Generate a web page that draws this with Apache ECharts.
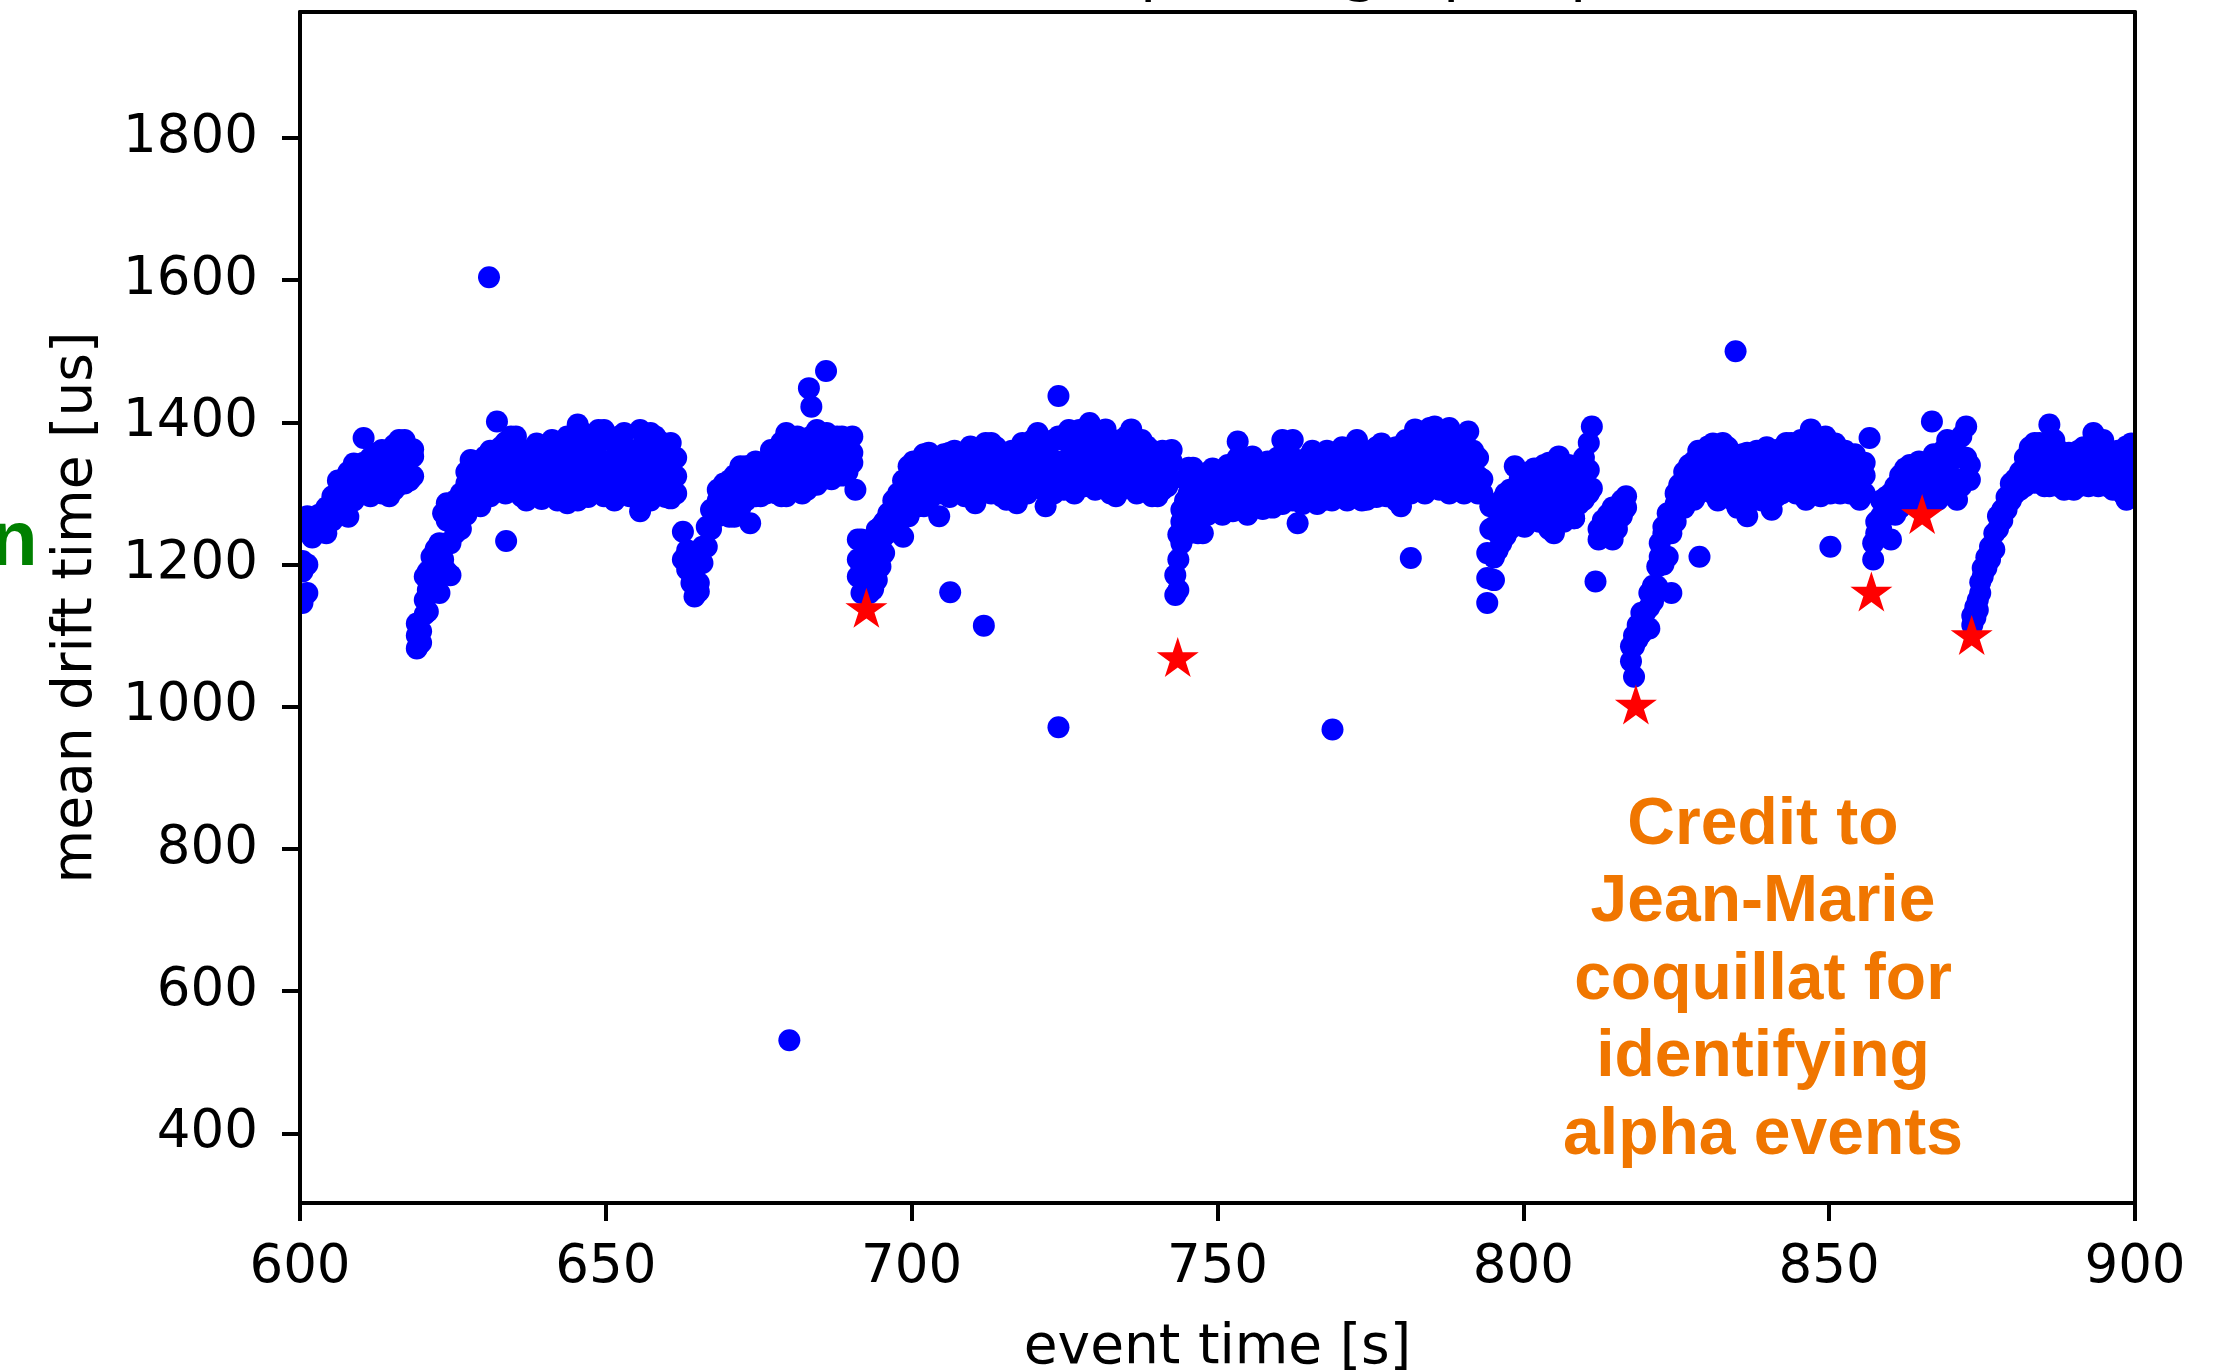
<!DOCTYPE html>
<html>
<head>
<meta charset="utf-8">
<title>mean drift time vs event time</title>
<script src="https://cdn.jsdelivr.net/npm/echarts@6/dist/echarts.min.js"></script>
<style>
  html, body { margin: 0; padding: 0; background: #fff; }
  #chart { width: 2218px; height: 1372px; }
</style>
</head>
<body>
<div id="chart"></div>
<script>
// each row: [event time (s), drift time (us), drift time, ...]
const cycle1 = [
  [600.4,1146,1190,1205],[601.2,1160,1200,1250,1268],[602.0,1238,1262],[603.1,1248,1270],
  [604.3,1244,1262,1280],[605.3,1262,1296],[606.2,1270,1300,1318],[607.1,1277,1298,1320],
  [607.9,1267,1310,1330],[608.8,1290,1320,1342],[609.6,1298,1319,1340],[610.4,1305,1330,1343,1378],
  [611.5,1296,1325,1350],[612.3,1310,1338,1356],[613.4,1300,1330,1361],[614.6,1296,1318,1346],
  [615.4,1305,1340,1368],[616.2,1312,1350,1375],[617.1,1314,1340,1375],[617.9,1318,1352],
  [618.5,1324,1352,1362]
]
const cycle2 = [
  [619.1,1082,1100,1117],[619.8,1090,1106],[620.4,1130,1150,1183],[620.9,1134,1164,1190],
  [621.5,1160,1185,1211],[622.2,1170,1200,1222],[622.8,1160,1195,1230],[623.4,1185,1207,1272],
  [624.0,1190,1230,1262,1286],[624.6,1185,1230,1267],[625.4,1244,1270,1290],[626.3,1250,1280,1300],
  [627.2,1270,1314,1330],[627.9,1282,1310,1347],
  [628.7,1290,1315,1345],[629.5,1282,1314,1340],[630.3,1300,1330,1352],[631.1,1296,1338,1360],
  [632.0,1305,1330,1350],[632.8,1312,1342,1365],[633.6,1300,1352,1372],[634.5,1310,1335,1380],
  [635.3,1314,1345,1380],[636.2,1296,1325,1358],[637.0,1290,1320,1350],[637.9,1300,1335,1362],
  [638.7,1314,1345,1370],[639.5,1292,1322,1355],[640.4,1300,1340,1361],[641.2,1310,1335,1375],
  [642.1,1290,1324,1360],[642.9,1296,1330,1368],[643.7,1286,1320,1352,1380],[644.6,1300,1340,1372],
  [645.4,1290,1330,1366,1397],[646.3,1305,1345,1385],[647.1,1295,1325,1360],[648.0,1300,1333,1370],
  [648.8,1312,1350,1389],[649.7,1296,1330,1389],[650.5,1305,1345,1375],[651.4,1290,1320,1371],
  [652.2,1300,1340,1380],[653.0,1305,1335,1365,1385],[653.9,1296,1328,1355],[654.7,1310,1345,1361],
  [655.6,1275,1320,1360,1389],[656.4,1300,1338,1375],[657.3,1290,1320,1352,1385],[658.1,1305,1345,1380],
  [659.0,1300,1330,1372],[659.8,1295,1325,1360],[660.6,1293,1324,1343,1371],[661.5,1300,1324,1350]
]
const cycle3 = [
  [662.6,1207,1246],[663.3,1193,1220],[664.0,1174,1200],[664.5,1155,1178],[665.2,1162,1174,1200],
  [665.8,1202,1225],[666.5,1225,1253],[667.2,1250,1277],
  [668.3,1268,1290,1305],[669.3,1280,1300,1314],[670.2,1267,1290,1318],[671.0,1267,1300,1325],
  [672.0,1280,1310,1324,1338],[672.9,1290,1320,1338],[673.6,1258,1300,1330],[674.5,1296,1320,1345],
  [675.3,1296,1312,1340],[676.2,1300,1325,1345],[677.0,1314,1340,1361],[677.9,1300,1330,1355],
  [678.7,1296,1320,1350,1372],[679.5,1296,1335,1385],[680.4,1305,1330,1360],[681.3,1310,1350,1380],
  [682.1,1300,1325,1360],[682.9,1305,1340,1370],[683.6,1315,1350,1380,1422],[684.5,1312,1345,1389],
  [685.3,1320,1355,1375],[686.1,1330,1352,1385],[686.9,1320,1338,1370],[687.8,1330,1360,1380],
  [688.6,1325,1350,1380],[689.5,1330,1345,1370],[690.3,1343,1357,1380],[690.8,1305]
]
const cycle4 = [
  [691.2,1183,1207,1235],[691.8,1160,1190,1235],[692.4,1169,1195],[693.1,1160,1180,1210],
  [693.7,1165,1197,1230],[694.3,1178,1197,1249],[694.9,1197,1230,1253],[695.5,1216,1240,1260],
  [696.2,1245,1272],
  [697.0,1250,1268,1290],[697.8,1255,1280,1300],[698.6,1239,1270,1300,1318],[699.5,1268,1290,1338],
  [700.3,1280,1319,1345],[701.1,1282,1310,1340],[702.0,1282,1305,1338,1355],[702.8,1290,1330,1357],
  [703.6,1300,1320,1350],[704.5,1268,1300,1340],[705.3,1300,1335,1355],[706.2,1295,1325,1357],
  [707.0,1300,1340,1360],[707.9,1305,1330,1352],[708.7,1296,1320,1345],[709.6,1310,1340,1366],
  [710.4,1286,1320,1350],[711.3,1300,1336,1360],[712.1,1310,1340,1371],[713.0,1300,1330,1371],
  [713.8,1310,1345,1365],[714.7,1296,1325,1350],[715.5,1291,1315,1345],[716.4,1300,1335,1360],
  [717.2,1286,1320,1355],[718.1,1305,1340,1371],[718.9,1300,1330,1360],[719.8,1310,1345,1375],
  [720.6,1315,1350,1385],[721.5,1305,1335,1370],[722.3,1310,1340,1365],[723.2,1300,1330,1375],
  [724.0,1310,1345,1380],[724.9,1305,1335,1375],[725.7,1315,1350,1389],[726.6,1300,1330,1365],
  [727.4,1312,1345,1389],[728.3,1310,1340,1380],[729.1,1320,1355,1399],[730.0,1305,1335,1370],
  [730.8,1310,1345,1385],[731.7,1315,1350,1390],[732.5,1300,1330,1365],[733.4,1296,1325,1360],
  [734.2,1305,1340,1375],[735.1,1310,1345,1380],[735.9,1315,1350,1390],[736.8,1300,1335,1370],
  [737.6,1310,1345,1375],[738.5,1305,1330,1366],[739.3,1296,1325,1360],[740.2,1296,1320,1350],
  [741.0,1305,1335,1360],[741.8,1310,1329,1355],[742.5,1320,1345,1361]
]
const cycle5 = [
  [743.1,1157,1185],[743.6,1164,1207,1242],[744.1,1230,1260,1277],[744.7,1290,1320],
  [745.3,1244,1300,1336],[746.0,1291,1320,1336],[746.8,1244,1270,1300],
  [747.6,1244,1290,1320],[748.4,1270,1300,1329],[749.2,1275,1305,1335],[750.0,1280,1310,1329],
  [750.8,1270,1300,1330],[751.7,1285,1315,1340],[752.5,1275,1310,1335],[753.3,1290,1320,1350,1373],
  [754.1,1280,1305,1335],[754.9,1270,1300,1330],[755.7,1285,1320,1352],[756.5,1290,1315,1340],
  [757.4,1278,1305,1335],[758.2,1285,1315,1345],[759.0,1280,1310,1340],[759.8,1290,1325,1350],
  [760.6,1285,1320,1355,1375],[761.4,1295,1330,1360],[762.3,1290,1320,1350,1375],[763.1,1258,1300,1330],
  [763.9,1285,1315,1345],[764.7,1290,1320,1350],[765.5,1295,1338,1360],[766.3,1285,1315,1345],
  [767.1,1290,1325,1355],[767.9,1300,1335,1360],[768.7,1290,1320,1357],[769.5,1295,1325,1350],
  [770.4,1300,1335,1365],[771.2,1290,1315,1345],[772.0,1300,1330,1360],[772.8,1295,1340,1375],
  [773.6,1290,1320,1355],[774.4,1291,1325,1350],[775.2,1300,1335,1360],[776.0,1295,1330,1365],
  [776.8,1305,1340,1370],[777.6,1296,1324,1355],[778.4,1300,1330,1360],[779.2,1290,1325,1365],
  [780.0,1282,1310,1345],[780.8,1305,1340,1375],[781.6,1300,1330,1352],[782.3,1310,1345,1385,1390],
  [783.1,1305,1335,1370],[783.9,1300,1340,1375],[784.7,1315,1350,1392],[785.5,1310,1340,1394],
  [786.3,1305,1335,1370],[787.1,1310,1345,1380],[787.9,1300,1330,1392],[788.7,1310,1340,1365],
  [789.5,1305,1335,1375],[790.3,1300,1330,1360],[791.0,1310,1345,1387],[791.8,1305,1330,1360],
  [792.6,1300,1324,1350],[793.3,1300,1320]
]
const cycle6 = [
  [794.1,1146,1181,1216],[794.6,1180,1250,1282],[795.2,1178,1210,1253],[795.8,1220,1244],
  [796.4,1230,1262,1290],[797.1,1240,1270,1300],
  [797.8,1250,1280,1305],[798.6,1265,1300,1338],[799.4,1255,1290,1320],[800.2,1253,1285,1319],
  [801.0,1265,1300,1330],[801.8,1270,1305,1335],[802.6,1260,1290,1315],[803.4,1272,1310,1340],
  [804.2,1250,1290,1325,1343],[805.0,1244,1280,1320],[805.8,1270,1310,1352],[806.6,1260,1300,1335],
  [807.4,1275,1310,1340],[808.3,1265,1295,1325],[809.1,1285,1320,1338],[809.9,1291,1320,1350],
  [810.7,1300,1333,1371],[811.2,1307,1394],
  [812.3,1235,1250],[813.0,1240,1262],[813.8,1253,1270],[814.6,1235,1265,1280],
  [815.3,1250,1277],[816.1,1268,1290],[816.8,1280,1296]
]
const cycle7 = [
  [817.6,1064,1085],[818.1,1042,1085,1100],[818.7,1095,1115],[819.3,1103,1132],[819.9,1110,1132],
  [820.6,1110,1140,1160],[821.2,1148,1170],[821.9,1169,1197],[822.3,1211,1230],[822.9,1200,1244,1253],
  [823.6,1211,1244,1272],[824.2,1160,1244,1260],[824.9,1260,1285,1300],[825.5,1280,1300,1312],
  [826.3,1280,1312,1330],[827.1,1290,1315,1340],[827.9,1291,1320,1345],[828.6,1300,1343,1360],
  [829.4,1305,1330,1360],[830.2,1310,1345,1366],[831.0,1300,1330,1370],[831.8,1290,1320,1355],
  [832.6,1305,1340,1371],[833.4,1300,1329,1365],[834.2,1291,1320,1350],[835.0,1280,1310,1345],
  [835.8,1291,1325,1355],[836.6,1268,1300,1357],[837.4,1290,1320,1345],[838.2,1300,1333,1360],
  [839.0,1290,1320,1350],[839.8,1300,1335,1365],[840.6,1277,1310,1340],[841.4,1296,1330,1361],
  [842.2,1300,1340,1361],[843.0,1305,1335,1371],[843.8,1310,1345,1371],[844.6,1300,1330,1360],
  [845.4,1305,1340,1375],[846.2,1291,1325,1360],[847.0,1310,1345,1390],[847.8,1300,1335,1370],
  [848.6,1296,1330,1365],[849.4,1305,1340,1380],[850.2,1300,1325,1360],[851.0,1310,1338,1370],
  [851.8,1300,1330,1350],[852.6,1305,1338,1360],[853.4,1300,1320,1345],[854.2,1310,1335,1355],
  [855.0,1291,1320,1343],[855.8,1300,1325,1343]
]
const cycle8 = [
  [857.2,1207,1230],[857.7,1244,1260],[858.5,1250,1268,1290],[859.3,1270,1295],[860.1,1235,1275,1300],
  [860.8,1270,1291,1310],[861.6,1280,1305,1325],[862.4,1290,1319,1335],[863.2,1295,1320,1340],
  [864.0,1290,1315,1338],[864.7,1300,1338,1345],[865.5,1295,1320,1340],[866.3,1290,1315,1345],
  [867.1,1300,1330,1355],[867.8,1291,1320,1350],[868.6,1300,1335,1360],[869.3,1310,1345,1375],
  [870.1,1300,1347,1365],[870.9,1291,1320,1355],[871.6,1310,1352,1380],[872.4,1320,1350,1394],
  [873.0,1319,1340]
]
const cycle9 = [
  [873.4,1115,1128],[873.9,1125,1140],[874.3,1136,1150],[874.7,1160,1175],[875.1,1183,1195],
  [875.7,1195,1210],[876.3,1207,1225],[877.0,1221,1244],[877.6,1250,1268],[878.3,1262,1277],
  [879.0,1277,1295],[879.7,1290,1314],[880.4,1300,1320],
  [881.2,1305,1330],[882.0,1310,1338,1350],[882.8,1320,1345,1365],[883.6,1315,1340,1371],
  [884.4,1320,1350,1371],[885.2,1310,1335,1360],[886.0,1310,1345,1397],[886.8,1315,1340,1375],
  [887.6,1310,1335,1360],[888.4,1305,1330,1355],[889.2,1310,1340,1357],[890.0,1305,1325,1355],
  [890.8,1310,1335,1360],[891.6,1315,1345,1365],[892.4,1310,1335,1360],[893.2,1320,1345,1385],
  [894.0,1310,1340,1375],[894.8,1315,1345,1375],[895.6,1310,1335,1360],[896.4,1305,1330,1355],
  [897.2,1310,1335,1360],[898.0,1300,1325,1350],[898.6,1291,1340,1366],[899.4,1300,1320,1345,1370]
]
// isolated events
const strays = [
  [630.9,1604],[632.2,1401],[633.7,1233],[680.0,531],[683.2,1448],[686.0,1472],
  [706.3,1161],[711.8,1114],[721.9,1282],[724.0,1437],[724.0,971],[768.8,968],
  [781.6,1209],[808.3,1265],[811.8,1176],[828.8,1211],[834.7,1500],[850.2,1225],
  [856.6,1378],[866.8,1401]
]
// alpha candidates (red stars)
const alphaTime = [692.6, 743.5, 818.4, 856.9, 865.2, 873.3]
const alphaDrift = [1139, 1070, 1003, 1162, 1271, 1101]

const yTicks = [400, 600, 800, 1000, 1200, 1400, 1600, 1800]
const creditLines = ['Credit to', 'Jean-Marie', 'coquillat for', 'identifying', 'alpha events']

const toPoints = rows => rows.flatMap(r => r.slice(1).map(y => [r[0], y]))
const bluePoints = [cycle1, cycle2, cycle3, cycle4, cycle5, cycle6, cycle7, cycle8, cycle9]
  .flatMap(toPoints)
  .concat(strays)
const starPoints = alphaTime.map((t, i) => [t, alphaDrift[i]])

const STAR = 'path://M50 0L61.23 34.55L97.55 34.55L68.16 55.9L79.39 90.45L50 69.1L20.61 90.45L31.84 55.9L2.45 34.55L38.77 34.55Z'
const tickFont = { fontFamily: 'DejaVu Sans', fontSize: 53, color: '#000' }
const nameFont = { fontFamily: 'DejaVu Sans', fontSize: 55, color: '#000' }
const lineStyle = { color: '#000', width: 4 }
const plain = v => String(v)

const chart = echarts.init(document.getElementById('chart'))
chart.setOption({
  animation: false,
  backgroundColor: '#fff',
  grid: { left: 300, right: 83, top: 12, bottom: 169, show: false, containLabel: false, outerBoundsMode: 'none' },
  xAxis: [
    {
      type: 'value', min: 600, max: 900, interval: 50, z: 10,
      name: 'event time [s]', nameLocation: 'middle', nameGap: 118,
      nameTextStyle: nameFont,
      axisLine: { show: true, onZero: false, lineStyle },
      axisTick: { show: true, length: 18, lineStyle },
      axisLabel: Object.assign({ margin: 39, formatter: plain }, tickFont),
      splitLine: { show: false }
    },
    {
      type: 'value', min: 600, max: 900, position: 'top', z: 10,
      axisLine: { show: true, onZero: false, lineStyle },
      axisTick: { show: false }, axisLabel: { show: false }, splitLine: { show: false }
    }
  ],
  yAxis: [
    {
      type: 'value', min: 302, max: 1977, z: 10,
      name: 'mean drift time [us]', nameLocation: 'middle', nameGap: 196,
      nameTextStyle: nameFont,
      axisLine: { show: true, onZero: false, lineStyle },
      axisTick: { show: true, length: 18, lineStyle, customValues: yTicks },
      axisLabel: Object.assign({ margin: 42, customValues: yTicks, formatter: plain }, tickFont),
      splitLine: { show: false }
    },
    {
      type: 'value', min: 302, max: 1977, position: 'right', z: 10,
      axisLine: { show: true, onZero: false, lineStyle },
      axisTick: { show: false }, axisLabel: { show: false }, splitLine: { show: false }
    }
  ],
  series: [
    {
      type: 'scatter', name: 'events', data: bluePoints,
      symbol: 'circle', symbolSize: 22, progressive: 0,
      itemStyle: { color: '#0000ff', opacity: 1 },
      emphasis: { disabled: true }, z: 2
    },
    {
      type: 'scatter', name: 'alpha', data: starPoints,
      symbol: STAR, symbolSize: [42, 40],
      itemStyle: { color: '#ff0000', opacity: 1 },
      emphasis: { disabled: true }, z: 3
    }
  ],
  graphic: [
    // hide marker halves that spill past the frame, like matplotlib clipping
    { type: 'rect', z: 5, silent: true, shape: { x: 274, y: 480, width: 24, height: 170 }, style: { fill: '#fff' } },
    { type: 'rect', z: 5, silent: true, shape: { x: 2137, y: 380, width: 30, height: 160 }, style: { fill: '#fff' } },
    {
      type: 'text', z: 6, silent: true, x: 1763, y: 787,
      style: {
        text: creditLines.join('\n'), align: 'center', verticalAlign: 'top',
        lineHeight: 77.5, font: 'bold 66px "Liberation Sans", Arial, sans-serif', fill: '#f07600'
      }
    },
    // fragment of slide text cut off at the left edge
    {
      type: 'text', z: 6, silent: true, x: -10, y: 543,
      style: { text: 'n', font: 'bold 78px "Liberation Sans", Arial, sans-serif', fill: '#008000', verticalAlign: 'middle' }
    },
    // descenders of the clipped title above the frame
    { type: 'text', z: 6, silent: true, x: 1140, y: -27, style: { text: 'p', font: '60px "DejaVu Sans"', fill: '#000', verticalAlign: 'middle' } },
    { type: 'text', z: 6, silent: true, x: 1342, y: -27, style: { text: 'g', font: '60px "DejaVu Sans"', fill: '#000', verticalAlign: 'middle' } },
    { type: 'text', z: 6, silent: true, x: 1443, y: -27, style: { text: 'p', font: '60px "DejaVu Sans"', fill: '#000', verticalAlign: 'middle' } },
    { type: 'text', z: 6, silent: true, x: 1570, y: -27, style: { text: 'p', font: '60px "DejaVu Sans"', fill: '#000', verticalAlign: 'middle' } }
  ]
})
</script>
</body>
</html>
